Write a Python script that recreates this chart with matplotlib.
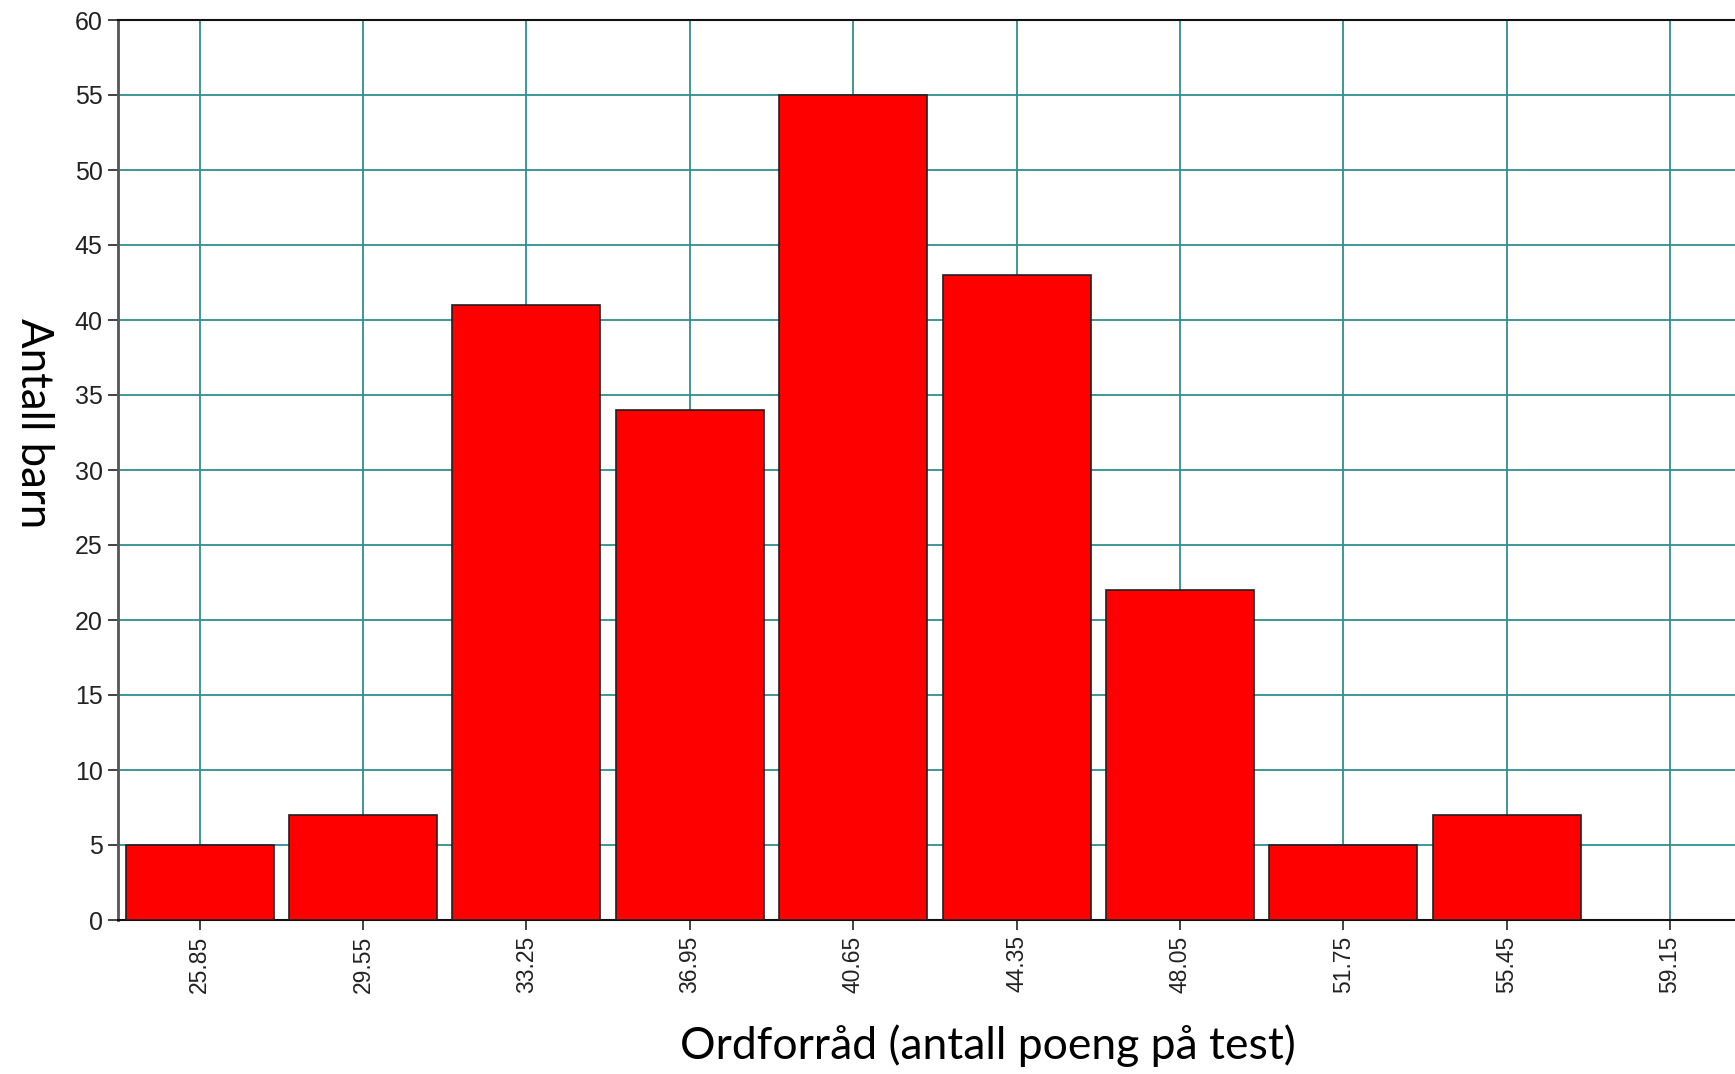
import matplotlib
matplotlib.use("Agg")
import matplotlib.pyplot as plt
from matplotlib import font_manager

centers = [25.85, 29.55, 33.25, 36.95, 40.65, 44.35, 48.05, 51.75, 55.45]
counts = [5, 7, 41, 34, 55, 43, 22, 5, 7]
tick_vals = [25.85, 29.55, 33.25, 36.95, 40.65, 44.35, 48.05, 51.75, 55.45, 59.15]
tick_labels = ["25.85", "29.55", "33.25", "36.95", "40.65", "44.35", "48.05", "51.75", "55.45", "59.15"]
y_ticks = list(range(0, 61, 5))

names = {f.name for f in font_manager.fontManager.ttflist}
tick_font = "Liberation Sans Narrow" if "Liberation Sans Narrow" in names else "Liberation Sans"

fig = plt.figure(figsize=(17.35, 10.74), dpi=100)
ax = fig.add_axes([118/1735, 1-920/1074, 1-118/1735, 900/1074])

grid_c = "#2f8f8f"
ax.set_axisbelow(True)
ax.grid(True, color=grid_c, linewidth=1.3)
ax.bar(centers, counts, width=3.35, color="#ff0000", edgecolor="#202020", linewidth=1.2, zorder=3)

ax.set_xlim(24.0, 60.62)
ax.set_ylim(0, 60)
ax.set_xticks(tick_vals)
ax.set_xticklabels(tick_labels, rotation=90, fontsize=16.5, family=tick_font, color="#222222")
ax.set_yticks(y_ticks)
ax.set_yticklabels([str(v) for v in y_ticks], fontsize=18, family=tick_font, color="#222222")
ax.tick_params(axis="both", length=7, width=1.2, color="#222222", pad=4)

ax.spines["right"].set_visible(False)
ax.spines["left"].set_color("#555555")
ax.spines["left"].set_linewidth(2)
for s in ("top", "bottom"):
    ax.spines[s].set_color("#111111")
    ax.spines[s].set_linewidth(1.5)

fig.text(988/1735, 1-1046/1074, "Ordforråd (antall poeng på test)", fontsize=32,
         family=["Lato", "DejaVu Sans"], ha="center", va="center", color="black")
fig.text(33/1735, 1-423/1074, "Antall barn", fontsize=31.5, rotation=-90,
         family=["Lato", "DejaVu Sans"], ha="center", va="center", color="black")

fig.savefig("out.png", dpi=100)
